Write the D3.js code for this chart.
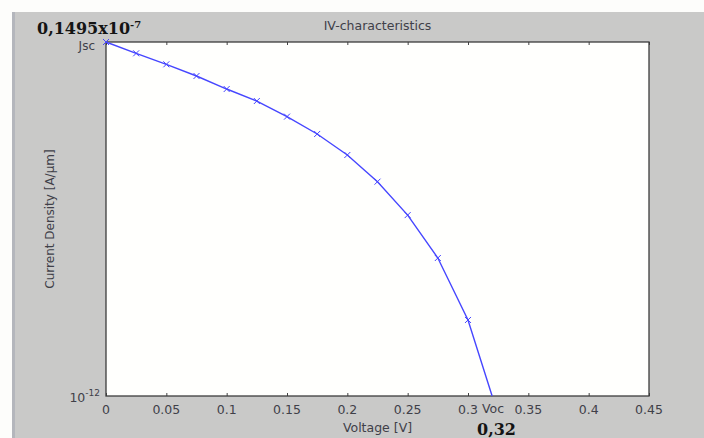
<!DOCTYPE html>
<html>
<head>
<meta charset="utf-8">
<script src="https://cdn.jsdelivr.net/npm/d3@7"></script>
<style>
  body { margin: 0; background: #fdfdfb; }
  svg { display: block; }
</style>
</head>
<body>
<div id="chart"></div>
<script>

// voltage samples (V) and current density (A/um)
var voltage = [0, 0.025, 0.05, 0.075, 0.1, 0.125, 0.15, 0.175, 0.2, 0.225, 0.25, 0.275, 0.3, 0.32];
var current = [1.495e-8, 1.10e-8, 8.16e-9, 5.94e-9, 4.17e-9, 3.01e-9, 1.97e-9, 1.23e-9,
               6.95e-10, 3.37e-10, 1.36e-10, 4.24e-11, 7.88e-12, 1e-12];
// markers are drawn on every sample except the end point at Voc
var markerCount = 13;

var xTicks = [0, 0.05, 0.1, 0.15, 0.2, 0.25, 0.3, 0.35, 0.4, 0.45];
var xTickLabels = ['0', '0.05', '0.1', '0.15', '0.2', '0.25', '0.3', '0.35', '0.4', '0.45'];
var jsc = 1.495e-8, jMin = 1e-12;

var W = 704, H = 438;
var margin = {top: 42, right: 55, bottom: 42, left: 106};
var width = W - margin.left - margin.right,
    height = H - margin.top - margin.bottom;

var sans = 'DejaVu Sans, Verdana, sans-serif';
var serif = 'DejaVu Serif, Georgia, serif';
var txtCol = '#404048';

var svg = d3.select('#chart').append('svg')
    .attr('width', W)
    .attr('height', H);

// gray figure window
svg.append('rect')
    .attr('x', 12).attr('y', 12)
    .attr('width', W - 12).attr('height', H - 12)
    .attr('fill', '#c9c9c8');
svg.append('rect')
    .attr('x', 12).attr('y', 12)
    .attr('width', 3).attr('height', H - 12)
    .attr('fill', '#b4b6bc');

var x = d3.scaleLinear().domain([0, 0.45]).range([0, width]);
var y = d3.scaleLog().domain([jMin, jsc]).range([height, 0]);

var main = svg.append('g')
    .attr('transform', 'translate(' + margin.left + ',' + margin.top + ')');

main.append('rect')
    .attr('width', width).attr('height', height)
    .attr('fill', '#fffffd');

// ticks inside the box, bottom and top
var xAxis = d3.axisBottom(x).tickValues(xTicks).tickSize(-3).tickFormat('');
main.append('g').attr('transform', 'translate(0,' + height + ')').call(xAxis)
    .call(function (g) { g.select('.domain').remove(); g.selectAll('line').attr('stroke', '#444'); });
main.append('g').call(d3.axisTop(x).tickValues(xTicks).tickSize(-3).tickFormat(''))
    .call(function (g) { g.select('.domain').remove(); g.selectAll('line').attr('stroke', '#444'); });

// box
main.append('rect')
    .attr('width', width).attr('height', height)
    .attr('fill', 'none')
    .attr('stroke', '#3c3c3c')
    .attr('stroke-width', 1.3);

// tick labels
main.selectAll('.xlab')
  .data(xTicks)
  .enter().append('text')
    .attr('class', 'xlab')
    .attr('x', function (d) { return x(d); })
    .attr('y', height + 18)
    .attr('text-anchor', 'middle')
    .attr('font-family', sans)
    .attr('font-size', 12.5)
    .attr('fill', txtCol)
    .text(function (d, i) { return xTickLabels[i]; });

main.append('text')
    .attr('x', x(0.3) + 14).attr('y', height + 17)
    .attr('font-family', sans)
    .attr('font-size', 12.5)
    .attr('fill', txtCol)
    .text('Voc');

main.append('text')
    .attr('x', -11).attr('y', y(jsc) + 8)
    .attr('text-anchor', 'end')
    .attr('font-family', sans)
    .attr('font-size', 12)
    .attr('fill', txtCol)
    .text('Jsc');

var tenLab = main.append('text')
    .attr('x', -6).attr('y', height + 6)
    .attr('text-anchor', 'end')
    .attr('font-family', sans)
    .attr('font-size', 12.5)
    .attr('fill', txtCol);
tenLab.append('tspan').text('10');
tenLab.append('tspan').attr('dy', -6).attr('font-size', 9).text('-12');

// axis titles
svg.append('text')
    .attr('x', margin.left + width / 2).attr('y', 432)
    .attr('text-anchor', 'middle')
    .attr('font-family', sans)
    .attr('font-size', 12.5)
    .attr('fill', txtCol)
    .text('Voltage [V]');

svg.append('text')
    .attr('transform', 'translate(54,' + (margin.top + height / 2) + ')rotate(-90)')
    .attr('text-anchor', 'middle')
    .attr('font-family', sans)
    .attr('font-size', 12)
    .attr('fill', txtCol)
    .text('Current Density [A/\u03bcm]');

svg.append('text')
    .attr('x', margin.left + width / 2).attr('y', 30)
    .attr('text-anchor', 'middle')
    .attr('font-family', sans)
    .attr('font-size', 12.5)
    .attr('fill', txtCol)
    .text('IV-characteristics');

// curve
var pts = voltage.map(function (v, i) { return [v, current[i]]; });
var line = d3.line()
    .x(function (d) { return x(d[0]); })
    .y(function (d) { return y(d[1]); });

main.append('path')
    .datum(pts)
    .attr('d', line)
    .attr('fill', 'none')
    .attr('stroke', '#4646ff')
    .attr('stroke-width', 1.4);

var mk = main.append('g');
pts.slice(0, markerCount).forEach(function (d) {
    var cx = x(d[0]), cy = y(d[1]);
    mk.append('path')
        .attr('d', 'M' + (cx - 3) + ',' + (cy - 3) + 'L' + (cx + 3) + ',' + (cy + 3) +
                   'M' + (cx - 3) + ',' + (cy + 3) + 'L' + (cx + 3) + ',' + (cy - 3))
        .attr('stroke', '#4646ff')
        .attr('stroke-width', 1);
});

// annotations added on top of the figure
var ann = svg.append('text')
    .attr('x', 37).attr('y', 34)
    .attr('font-family', serif)
    .attr('font-weight', 'bold')
    .attr('font-size', 16)
    .attr('fill', '#141414');
ann.append('tspan').text('0,1495x10');
ann.append('tspan').attr('dy', -6).attr('font-size', 10).text('-7');

svg.append('text')
    .attr('x', 477).attr('y', 435)
    .attr('font-family', serif)
    .attr('font-weight', 'bold')
    .attr('font-size', 16)
    .attr('fill', '#141414')
    .text('0,32');

</script>
</body>
</html>
